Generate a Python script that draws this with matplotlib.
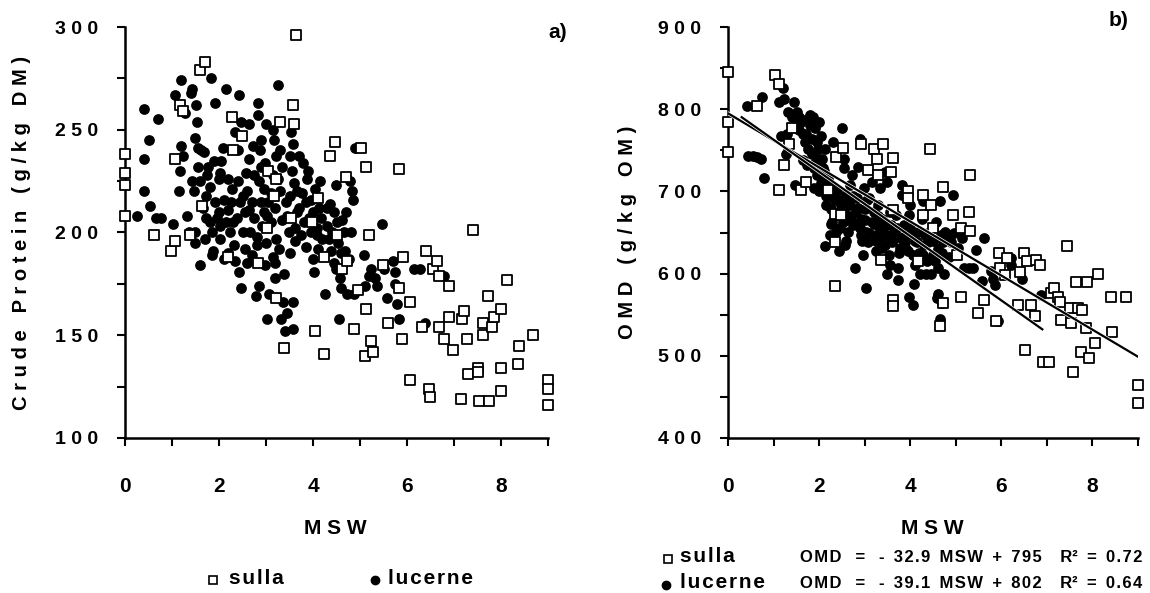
import matplotlib
matplotlib.use("Agg")
import matplotlib.pyplot as plt
from matplotlib.lines import Line2D
import matplotlib.patheffects as pe

plt.rcParams['font.family'] = ['Liberation Sans', 'DejaVu Sans']
plt.rcParams['font.weight'] = 'bold'

# ---------------- data: panel a (Crude protein) ----------------
sulla_a_msw = [0, 0, 0, 0, 0.61, 0.97, 1.07, 1.07, 1.16, 1.24, 1.39, 1.60, 1.70, 1.64, 2.19, 2.27, 2.29, 2.49,
               2.83, 3.02, 3.05, 3.21, 3.18, 3.22, 3.29, 3.38, 3.58, 3.59, 3.63, 3.54, 3.97, 4.11, 4.05, 4.23,
               4.23, 4.37, 4.47, 4.50, 4.61, 4.73, 4.71, 4.88, 4.96, 5.02, 5.12, 5.11, 5.12, 5.20, 5.24, 5.28,
               5.48, 5.60, 5.82, 5.83, 5.91, 5.90, 6.06, 6.06, 6.31, 6.41, 6.47, 6.48, 6.56, 6.63, 6.69, 6.69,
               6.79, 6.90, 6.90, 6.98, 7.14, 7.18, 7.22, 7.27, 7.30, 7.40, 7.50, 7.52, 7.53, 7.61, 7.61, 7.74,
               7.72, 7.81, 7.85, 8.01, 8.01, 8.01, 8.13, 8.37, 8.38, 8.69, 9.0, 9.0, 9.0]
sulla_a_cp = [238, 229, 223, 208, 199, 191, 196, 236, 262, 259, 199, 279, 283, 213, 188, 256, 240, 247,
              185, 202, 230, 226, 218, 168, 254, 144, 262, 253, 296, 207, 205, 217, 152, 141,
              188, 237, 244, 199, 182, 186, 227, 153, 172, 241, 232, 140, 163, 199, 147, 142,
              184, 156, 231, 173, 188, 148, 166, 128, 154, 191, 124, 120, 182, 186, 179, 154,
              148, 174, 159, 143, 119, 158, 162, 148, 131, 201, 134, 132, 118, 150, 156, 118,
              169, 154, 159, 134, 123, 163, 177, 136, 145, 150, 128, 124, 116]

lucerne_a_msw = [0.25, 0.40, 0.40, 0.40, 0.51, 0.53, 0.70, 0.65, 0.77, 1.03, 1.07, 1.15, 1.16, 1.19, 1.20, 1.24,
                 1.28, 1.32, 1.36, 1.40, 1.42, 1.43, 1.46, 1.48, 1.48, 1.52, 1.54, 1.48, 1.56, 1.56, 1.60, 1.62,
                 1.68, 1.72, 1.72, 1.77, 1.84, 1.86, 1.86, 1.88, 1.92, 1.92, 1.96, 1.99, 2.03, 2.03, 2.03, 2.09,
                 2.11, 2.15, 2.19, 2.23, 2.27, 2.31, 2.35, 2.35, 2.39, 2.43, 2.43, 2.47, 2.47, 2.51, 2.55, 2.57,
                 2.63, 2.63, 2.63, 2.67, 2.71, 2.73, 2.75, 2.78, 2.80, 2.82, 2.82, 2.85, 2.87, 2.89, 2.91, 2.95,
                 2.97, 2.98, 3.00, 3.02, 3.02, 3.06, 3.10, 3.14, 3.14, 3.16, 3.19, 3.21, 3.22, 3.26, 3.26, 3.28,
                 3.32, 3.34, 3.37, 3.38, 3.40, 3.42, 3.44, 3.48, 3.50, 3.54, 3.58, 3.58, 3.58, 3.60, 3.62, 3.62,
                 3.66, 3.71, 3.76, 3.79, 3.85, 3.88, 3.92, 3.96, 4.01, 4.03, 4.05, 4.08, 4.09, 4.13, 4.17, 4.25,
                 4.29, 4.33, 4.37, 4.39, 4.44, 4.49, 4.49, 4.53, 4.55, 4.57, 4.59, 4.61, 4.65, 4.69, 4.73, 4.77,
                 4.79, 4.82, 4.85, 4.87, 4.90, 5.08, 5.11, 5.20, 5.24, 5.32, 5.36, 5.46, 5.52, 5.58, 5.71, 5.74,
                 5.75, 5.79, 5.83, 6.15, 6.27, 6.39, 6.79,
                 1.75, 1.80, 1.90, 2.00, 2.05, 2.15, 2.20, 2.25, 2.30, 2.40, 2.45, 2.50, 2.55, 2.60, 2.70, 2.75,
                 2.85, 2.90, 2.95, 3.05, 3.10, 3.15, 3.20, 3.30, 3.35, 3.45, 3.50, 3.55, 3.65, 3.70, 3.80, 3.85,
                 3.95, 4.00, 4.10, 4.20, 4.30, 4.40, 4.50, 4.60, 2.20, 2.60, 3.00, 1.70, 1.80, 2.10, 3.20, 3.50,
                 2.40, 2.90, 3.30, 1.60, 1.65, 2.80, 3.90, 4.15, 4.45, 4.70, 4.80, 3.75]
lucerne_a_cp = [208, 260, 236, 220, 245, 213, 255, 207, 207, 204, 267, 220, 230, 242, 274, 237,
                258, 208, 200, 268, 270, 225, 220, 200, 195, 262, 254, 246, 241, 232, 184, 240,
                239, 218, 207, 232, 275, 200, 189, 191, 263, 215, 207, 226, 229, 203, 197, 241,
                216, 270, 211, 200, 221, 194, 186, 249, 207, 267, 181, 173, 254, 218, 192, 229,
                253, 236, 211, 200, 189, 242, 228, 169, 194, 263, 257, 174, 240, 215, 203, 221,
                184, 234, 253, 158, 208, 170, 219, 250, 188, 245, 178, 197, 237, 272, 226, 192,
                158, 206, 166, 180, 152, 215, 161, 200, 237, 249, 153, 166, 243, 224, 196, 202,
                210, 237, 219, 234, 193, 226, 207, 216, 187, 181, 221, 199, 202, 212, 207, 170,
                203, 197, 214, 191, 210, 223, 182, 195, 158, 178, 173, 206, 200, 191, 170, 187,
                225, 220, 216, 170, 241, 189, 174, 179, 182, 178, 174, 204, 182, 168, 186, 181,
                175, 165, 158, 182, 182, 156, 179,
                228, 222, 235, 210, 235, 205, 226, 215, 205, 225, 215, 200, 210, 220, 215, 207,
                225, 232, 210, 215, 205, 228, 212, 220, 232, 208, 218, 230, 220, 212, 205, 215,
                200, 210, 192, 197, 212, 200, 205, 190, 190, 185, 195, 197, 205, 187, 185, 190,
                240, 245, 240, 225, 212, 198, 230, 225, 185, 210, 200, 199]

# ---------------- data: panel b (OMD) ----------------
sulla_b_msw = [0, 0, 0, 0.64, 1.03, 1.12, 1.12, 1.22, 1.33, 1.40, 1.60, 1.71, 2.20, 2.34, 2.35, 2.35, 2.36,
               2.48, 2.52, 2.92, 3.08, 3.21, 3.26, 3.30, 3.35, 3.40, 3.57, 3.63, 3.63, 3.63, 3.63, 3.95, 3.96,
               4.17, 4.29, 4.29, 4.43, 4.45, 4.51, 4.65, 4.73, 4.73, 4.93, 5.02, 5.12, 5.12, 5.28, 5.31, 5.31,
               5.49, 5.63, 5.89, 5.95, 5.97, 6.09, 6.13, 6.37, 6.41, 6.49, 6.51, 6.57, 6.65, 6.73, 6.75, 6.85,
               6.92, 7.05, 7.09, 7.16, 7.25, 7.29, 7.31, 7.45, 7.51, 7.53, 7.57, 7.63, 7.69, 7.75, 7.77, 7.85,
               7.88, 7.93, 8.05, 8.12, 8.41, 8.44, 8.73, 9.0, 9.0]
sulla_b_omd = [845, 784, 748, 804, 841, 831, 702, 732, 758, 777, 702, 712, 702, 672, 638, 585, 742,
               671, 753, 758, 726, 752, 740, 720, 617, 758, 724, 741, 677, 568, 561, 700, 692,
               615, 696, 671, 752, 683, 655, 536, 564, 705, 671, 623, 572, 655, 675, 652, 720,
               552, 568, 542, 625, 607, 598, 619, 562, 602, 625, 507, 615, 562, 548, 617, 611,
               493, 492, 576, 582, 572, 566, 544, 633, 558, 540, 480, 590, 558, 505, 556, 534,
               590, 497, 515, 600, 572, 529, 572, 465, 443]

lucerne_b_msw = [0.42, 0.44, 0.54, 0.64, 0.72, 0.74, 0.80, 1.12, 1.16, 1.20, 1.24, 1.28, 1.32, 1.44, 1.48, 1.52,
                 1.55, 1.56, 1.60, 1.64, 1.68, 1.72, 1.74, 1.76, 1.79, 1.80, 1.84, 1.87, 1.88, 1.88, 1.92, 1.95,
                 1.96, 1.98, 2.00, 2.04, 2.04, 2.06, 2.08, 2.11, 2.12, 2.14, 2.16, 2.20, 2.24, 2.27, 2.28, 2.32,
                 2.35, 2.36, 2.40, 2.43, 2.44, 2.46, 2.48, 2.51, 2.52, 2.54, 2.54, 2.56, 2.59, 2.60, 2.64, 2.67,
                 2.68, 2.72, 2.75, 2.78, 2.80, 2.84, 2.86, 2.89, 2.91, 2.93, 2.96, 2.99, 3.00, 3.04, 3.04, 3.08,
                 3.10, 3.15, 3.17, 3.21, 3.24, 3.25, 3.29, 3.33, 3.34, 3.37, 3.39, 3.45, 3.48, 3.49, 3.50, 3.53,
                 3.55, 3.57, 3.61, 3.65, 3.69, 3.73, 3.74, 3.77, 3.80, 3.81, 3.83, 3.87, 3.89, 3.93, 3.95, 3.97,
                 3.98, 4.00, 4.03, 4.05, 4.06, 4.09, 4.11, 4.14, 4.17, 4.21, 4.25, 4.27, 4.29, 4.33, 4.37, 4.40,
                 4.45, 4.49, 4.51, 4.57, 4.59, 4.61, 4.65, 4.65, 4.68, 4.69, 4.73, 4.77, 4.89, 4.93, 5.05, 5.13,
                 5.17, 5.29, 5.37, 5.45, 5.57, 5.61, 5.77, 5.81, 5.85, 5.93, 6.21, 6.21, 6.45, 6.87,
                 1.50, 1.65, 1.70, 1.85, 1.90, 2.00, 2.10, 2.20, 2.30, 2.35, 2.40, 2.45, 2.50, 2.55, 2.60, 2.65,
                 2.70, 2.75, 2.80, 2.85, 2.90, 2.95, 3.00, 3.05, 3.10, 3.20, 3.25, 3.30, 3.35, 3.40, 3.45, 3.50,
                 3.60, 3.70, 3.75, 3.85, 3.90, 4.00, 4.10, 4.20, 4.30, 4.40, 4.50, 4.55, 4.60, 4.70, 4.80, 4.85,
                 4.95, 2.25, 2.60, 2.00, 2.15, 3.55, 4.35, 4.75, 4.60, 1.30, 1.40, 2.30]
lucerne_b_omd = [804, 743, 743, 742, 740, 815, 716, 809, 768, 826, 813, 746, 797, 809, 708, 797,
                 791, 775, 785, 738, 787, 770, 732, 752, 781, 793, 764, 791, 728, 704, 777, 760,
                 720, 752, 785, 710, 768, 740, 728, 716, 752, 633, 683, 696, 647, 679, 663, 692,
                 700, 651, 671, 688, 627, 655, 683, 777, 663, 740, 728, 635, 696, 671, 651, 708,
                 683, 720, 659, 607, 675, 692, 730, 764, 647, 667, 623, 704, 679, 583, 651, 639,
                 692, 663, 712, 675, 647, 627, 683, 655, 704, 631, 667, 724, 712, 647, 600, 623,
                 675, 659, 639, 651, 671, 592, 607, 631, 643, 708, 696, 659, 639, 651, 627, 671,
                 572, 683, 647, 623, 562, 587, 611, 639, 651, 599, 667, 688, 623, 647, 615, 639,
                 599, 655, 623, 663, 570, 607, 545, 688, 647, 564, 639, 651, 639, 696, 631, 643,
                 607, 607, 607, 629, 591, 643, 603, 593, 586, 542, 619, 611, 593, 574,
                 780, 770, 760, 745, 735, 740, 725, 715, 705, 690, 700, 675, 690, 680, 665, 685,
                 670, 695, 660, 680, 655, 640, 665, 690, 650, 660, 640, 670, 645, 655, 635, 660,
                 640, 655, 625, 645, 630, 655, 640, 625, 635, 650, 640, 615, 630, 625, 645, 620,
                 650, 660, 640, 700, 695, 610, 600, 600, 575, 770, 790, 760]

# regression equations (from legend)
sulla_fit = (-32.9, 795, 0.72)
lucerne_fit = (-39.1, 802, 0.64)
sulla_fit_range = (0.0, 9.0)
lucerne_fit_range = (0.3, 6.9)

x_ticks = [0, 2, 4, 6, 8]
cp_ticks = [100, 150, 200, 250, 300]
omd_ticks = [400, 500, 600, 700, 800, 900]

# ---------------- figure ----------------
W, H = 1150, 593
fig = plt.figure(figsize=(W / 100, H / 100), dpi=100)


def px_rect(x0, y0, x1, y1):
    return [x0 / W, 1 - y1 / H, (x1 - x0) / W, (y1 - y0) / H]


def fx(x):
    return x / W


def fy(y):
    return 1 - y / H


def spaced(s, sep='\u2009'):
    return sep.join(list(s))


axa = fig.add_axes(px_rect(125, 27, 548, 438))
axb = fig.add_axes(px_rect(728, 27, 1138, 438))

sq_kw = dict(marker='s', s=46, facecolors='white', edgecolors='black', linewidths=1.3, zorder=3, clip_on=False)
ci_kw = dict(marker='o', s=60, c='black', edgecolors='black', linewidths=0.0, zorder=2, clip_on=False)

axa.scatter(lucerne_a_msw, lucerne_a_cp, **ci_kw)
axa.scatter(sulla_a_msw, sulla_a_cp, **sq_kw)
axb.scatter(lucerne_b_msw, lucerne_b_omd, **ci_kw)
axb.scatter(sulla_b_msw, sulla_b_omd, **sq_kw)

for fit, rng in ((sulla_fit, sulla_fit_range), (lucerne_fit, lucerne_fit_range)):
    xs = list(rng)
    ys = [fit[0] * x + fit[1] for x in xs]
    axb.plot(xs, ys, color='black', lw=1.6, zorder=4,
             path_effects=[pe.Stroke(linewidth=2.6, foreground='white'), pe.Normal()])

tick_font = dict(weight='bold', size=14)
xtick_font = dict(weight='bold', size=15)

for ax, yt, ylim, step in ((axa, cp_ticks, (100, 300), 25), (axb, omd_ticks, (400, 900), 50)):
    ax.set_xlim(0, 9)
    ax.set_ylim(*ylim)
    for s in ('top', 'right'):
        ax.spines[s].set_visible(False)
    for s in ('left', 'bottom'):
        ax.spines[s].set_linewidth(1.8)
    ax.set_xticks(range(0, 10))
    ax.set_xticklabels([str(v) if v in x_ticks else '' for v in range(0, 10)], **xtick_font)
    minor = list(range(ylim[0], ylim[1] + 1, step))
    ax.set_yticks(minor)
    ax.set_yticklabels([spaced(str(v), ' ') if v in yt else '' for v in minor], **tick_font)
    ax.tick_params(axis='both', direction='out', length=6, width=1.5)
    ax.tick_params(axis='x', pad=22)
    ax.tick_params(axis='y', pad=13.5)

axa.set_ylabel(spaced('Crude Protein (g/kg DM)', ' '), fontsize=14.5, fontweight='bold', labelpad=17)
axb.set_ylabel(spaced('OMD (g/kg OM)', ' '), fontsize=14.5, fontweight='bold', labelpad=15)

fig.text(fx(335), fy(528), spaced('MSW', ' '), ha='center', va='center', fontsize=15, fontweight='bold')
fig.text(fx(932), fy(528), spaced('MSW', ' '), ha='center', va='center', fontsize=15, fontweight='bold')

fig.text(fx(567), fy(33), 'a)', ha='right', va='center', fontsize=15, fontweight='bold')
fig.text(fx(1128), fy(20), 'b)', ha='right', va='center', fontsize=15, fontweight='bold')

# legend panel a
fig.add_artist(Line2D([fx(213)], [fy(580)], marker='s', markersize=6.0, markerfacecolor='white',
                      markeredgecolor='black', markeredgewidth=1.2, transform=fig.transFigure))
fig.text(fx(229), fy(578), spaced('sulla', '\u200a'), ha='left', va='center', fontsize=15, fontweight='bold')
fig.add_artist(Line2D([fx(375)], [fy(580)], marker='o', markersize=6.0, color='black',
                      transform=fig.transFigure))
fig.text(fx(388), fy(578), spaced('lucerne', '\u200a'), ha='left', va='center', fontsize=15, fontweight='bold')

# legend panel b
fig.add_artist(Line2D([fx(668)], [fy(559)], marker='s', markersize=6.0, markerfacecolor='white',
                      markeredgecolor='black', markeredgewidth=1.2, transform=fig.transFigure))
fig.text(fx(680), fy(556), spaced('sulla', '\u200a'), ha='left', va='center', fontsize=15, fontweight='bold')
fig.add_artist(Line2D([fx(666)], [fy(585)], marker='o', markersize=6.0, color='black',
                      transform=fig.transFigure))
fig.text(fx(680), fy(582), spaced('lucerne', '\u200a'), ha='left', va='center', fontsize=15, fontweight='bold')

for (m, c, r2), yy in ((sulla_fit, 557), (lucerne_fit, 583)):
    eq = spaced('OMD', '\u200a') + '   =   -  ' + spaced(f'{abs(m):.1f}', '\u200a') + '  ' + \
        spaced('MSW', '\u200a') + '  +  ' + spaced(str(c), '\u200a') + '    R\u00b2  =  ' + \
        spaced(f'{r2:.2f}', '\u200a')
    fig.text(fx(1142), fy(yy), eq, ha='right', va='center', fontsize=12, fontweight='bold')

fig.savefig('out.png', dpi=100)
